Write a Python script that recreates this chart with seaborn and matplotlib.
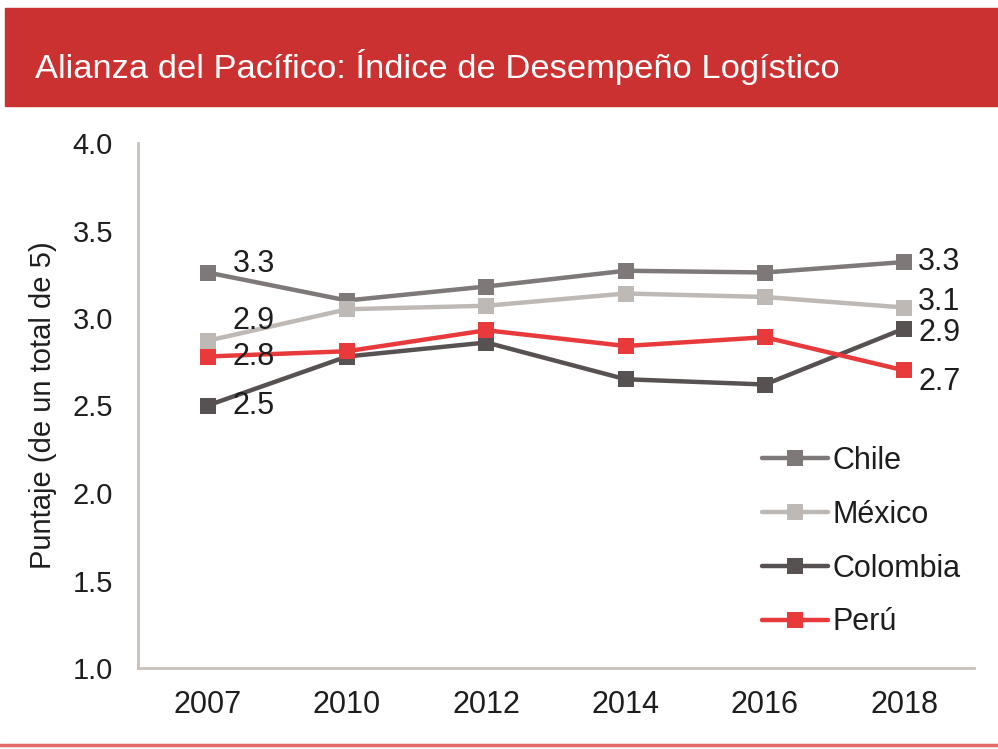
import matplotlib
matplotlib.use("Agg")
import matplotlib.pyplot as plt
import seaborn as sns
import pandas as pd
from matplotlib.patches import Rectangle
from matplotlib.lines import Line2D

years = ["2007", "2010", "2012", "2014", "2016", "2018"]
chile = [3.26, 3.10, 3.18, 3.27, 3.26, 3.32]
mexico = [2.87, 3.05, 3.07, 3.14, 3.12, 3.06]
colombia = [2.50, 2.78, 2.86, 2.65, 2.62, 2.94]
peru = [2.78, 2.81, 2.93, 2.84, 2.89, 2.70]
countries = ["Chile", "México", "Colombia", "Perú"]
colors = ["#7f7878", "#bfb9b5", "#585151", "#e8393b"]
left_labels = ["3.3", "2.9", "2.5", "2.8"]
right_labels = ["3.3", "3.1", "2.9", "2.7"]
yticks = [1.0, 1.5, 2.0, 2.5, 3.0, 3.5, 4.0]

series = [chile, mexico, colombia, peru]
df = pd.DataFrame({
    "year": years * 4,
    "value": chile + mexico + colombia + peru,
    "country": [c for c in countries for _ in years],
})

sns.set_theme(style="white")
plt.rcParams["font.family"] = ["Liberation Sans", "DejaVu Sans"]

TXT = "#1e1e1e"
fig = plt.figure(figsize=(9.98, 7.49), dpi=100)
# title band
fig.patches.append(Rectangle((0.005, 1 - 106 / 749), 0.995, 98 / 749,
                             transform=fig.transFigure, color="#cc3131", zorder=0))
fig.text(0.035, 1 - 67 / 749, "Alianza del Pacífico: Índice de Desempeño Logístico",
         color="white", fontsize=24.8, va="center", ha="left")
fig.add_artist(Line2D([0, 1], [1 - 745 / 749] * 2, transform=fig.transFigure,
                      color="#e46a6a", lw=2.5))

ax = fig.add_axes([138 / 998, 1 - 668 / 749, (974 - 138) / 998, (668 - 143) / 749])
sns.lineplot(data=df, x="year", y="value", hue="country", palette=colors,
             marker="s", markersize=11, markeredgewidth=0, linewidth=3.2,
             ax=ax, sort=False, legend=False)

ax.set_xlim(-0.5, 5.5)
ax.set_ylim(1.0, 4.0)
ax.set_yticks(yticks)
ax.set_yticklabels([f"{t:.1f}" for t in yticks], fontsize=21, color=TXT)
ax.set_xticks(range(len(years)))
ax.set_xticklabels(years, fontsize=22, color=TXT)
ax.set_xticks([i - 0.5 for i in range(len(years) + 1)], minor=True)
ax.tick_params(axis="x", which="major", length=0, pad=16)
ax.tick_params(axis="x", which="minor", length=6, width=1.5, color="#c9c1b9", direction="out")
ax.tick_params(axis="y", which="major", length=6, width=1.5, color="#c9c1b9", direction="out", pad=12)
for s in ["top", "right"]:
    ax.spines[s].set_visible(False)
for s in ["left", "bottom"]:
    ax.spines[s].set_color("#c9c1b9")
    ax.spines[s].set_linewidth(2)
ax.set_xlabel("")
ax.set_ylabel("Puntaje (de un total de 5)", fontsize=21, color=TXT, labelpad=11)

# data labels
left_offsets = [6, 14, 0, 0]
for vals, lab, dy in zip(series, left_labels, left_offsets):
    ax.annotate(lab, (0, vals[0]), xytext=(18, dy), textcoords="offset points",
                fontsize=22, va="center", ha="left", color=TXT)
right_offsets = [0, 4, -3, -8]
for vals, lab, dy in zip(series, right_labels, right_offsets):
    ax.annotate(lab, (5, vals[5]), xytext=(10, dy), textcoords="offset points",
                fontsize=22, va="center", ha="left", color=TXT)

handles = [Line2D([0], [0], color=c, lw=3.2, marker="s", markersize=11, markeredgewidth=0)
           for c in colors]
leg = fig.legend(handles, countries, loc="upper left",
                 bbox_to_anchor=(762 / 998, 1 - 446 / 749),
                 frameon=False, fontsize=22, handlelength=2.15, handletextpad=0.15,
                 labelspacing=0.78, borderpad=0, borderaxespad=0)
for t in leg.get_texts():
    t.set_color(TXT)

fig.savefig("out.png", dpi=100)
